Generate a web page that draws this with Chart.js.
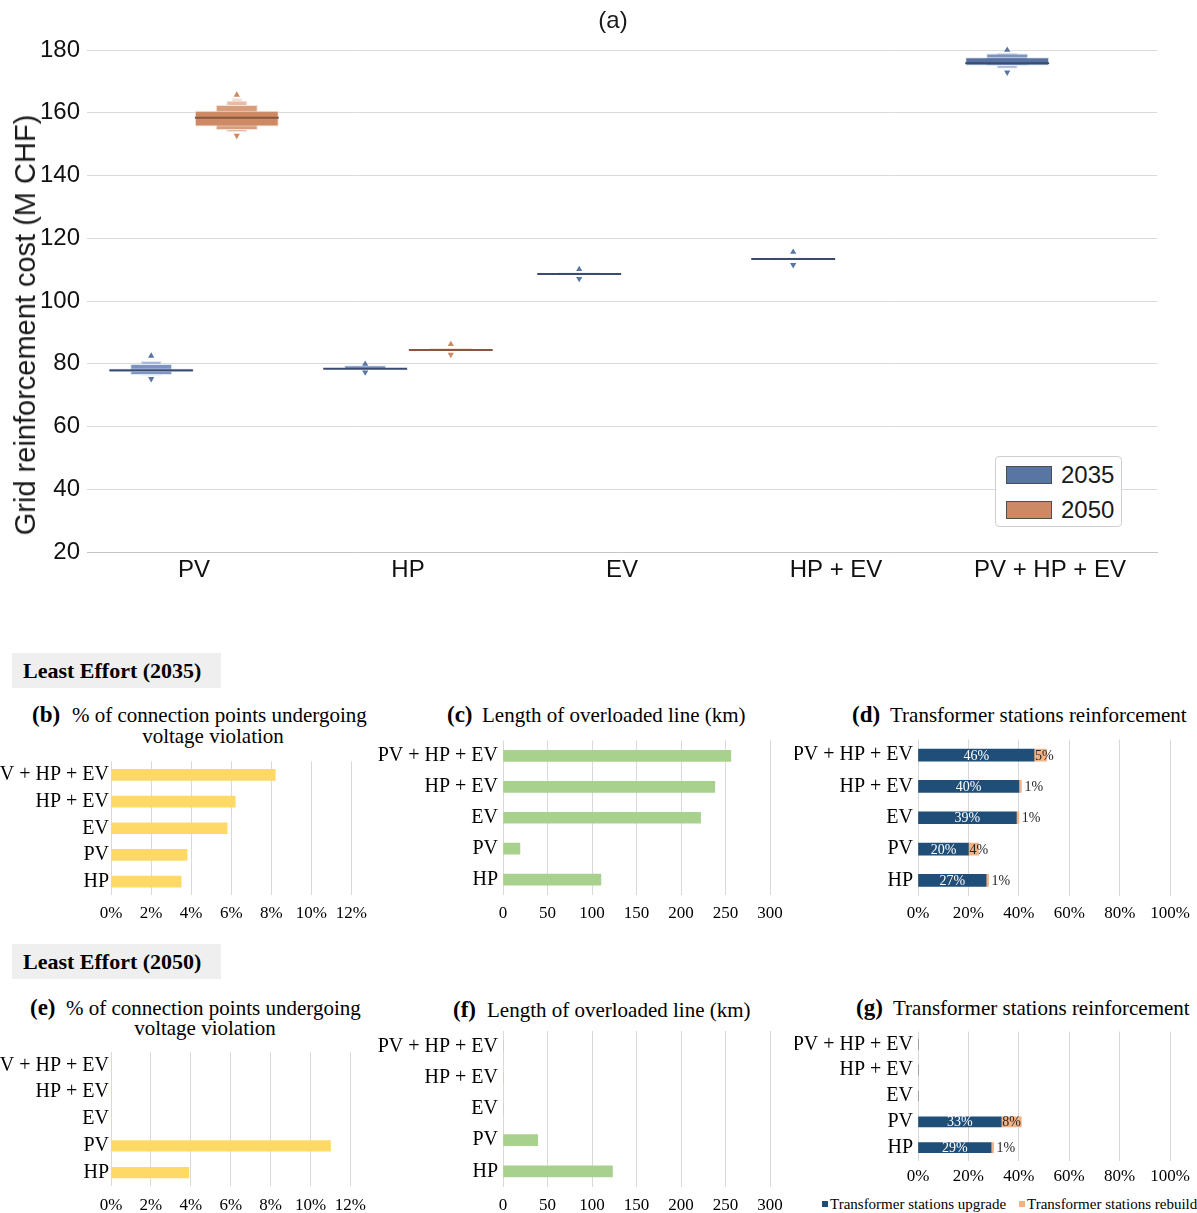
<!DOCTYPE html>
<html>
<head>
<meta charset="utf-8">
<script src="https://cdn.jsdelivr.net/npm/chart.js@4.4.1/dist/chart.umd.min.js"></script>
<style>
  html, body { margin: 0; padding: 0; background: #fff; }
  #fig { position: relative; width: 1197px; height: 1213px; overflow: hidden; background: #fff; }
  canvas.c { position: absolute; }
  .t { position: absolute; white-space: nowrap; }
  .sans { font-family: "Liberation Sans", Arial, sans-serif; color: #1a1a1a; }
  .serif { font-family: "Liberation Serif", "Times New Roman", serif; color: #000; }
  .hdr { position: absolute; left: 12px; width: 209px; height: 35px; background: #efefef;
         font: bold 22px "Liberation Serif", "Times New Roman", serif; line-height: 35px;
         padding-left: 11px; box-sizing: border-box; color: #000; }
  .ttl { font-size: 21px; line-height: 24px; }
  .tag { font-weight: bold; font-size: 23px; line-height: 24px; }
  .lg { position: absolute; left: 995px; top: 456px; width: 127px; height: 71px; box-sizing: border-box;
        border: 1px solid #cfcfcf; border-radius: 4px; background: #fff; }
  .lg .p { position: absolute; left: 10px; width: 46px; height: 18px; box-sizing: border-box; border: 1px solid #4d4d4d; }
  .lg .l { position: absolute; left: 65px; font: 24px "Liberation Sans", Arial, sans-serif; line-height: 28px; color: #1a1a1a; }
  .sq { position: absolute; width: 6px; height: 6px; }
</style>
</head>
<body>
<div id="fig">
  <canvas id="chartA" class="c" width="1197" height="600" style="left:0;top:0"></canvas>
  <div class="t sans" style="left:513px;width:200px;top:6px;text-align:center;font-size:24px;line-height:28px;">(a)</div>
  <div class="t sans" style="left:25px;top:325px;font-size:29px;line-height:32px;transform:translate(-50%,-50%) rotate(-90deg);">Grid reinforcement cost (M CHF)</div>
  <div class="lg">
    <div class="p" style="top:9px;background:#5875a4"></div><div class="l" style="top:4px">2035</div>
    <div class="p" style="top:44px;background:#cc8963"></div><div class="l" style="top:39px">2050</div>
  </div>

  <div class="hdr" style="top:653px">Least Effort (2035)</div>
  <div class="hdr" style="top:944px">Least Effort (2050)</div>

  <div class="t serif tag" style="left:32px;top:703px">(b)</div>
  <div class="t serif ttl" style="left:72px;top:703px">% of connection points undergoing</div>
  <div class="t serif ttl" style="left:113px;width:200px;text-align:center;top:724px">voltage violation</div>
  <div class="t serif tag" style="left:447px;top:703px">(c)</div>
  <div class="t serif ttl" style="left:482px;top:703px">Length of overloaded line (km)</div>
  <div class="t serif tag" style="left:852px;top:703px">(d)</div>
  <div class="t serif ttl" style="left:890px;top:703px">Transformer stations reinforcement</div>

  <div class="t serif tag" style="left:30px;top:996px">(e)</div>
  <div class="t serif ttl" style="left:66px;top:996px">% of connection points undergoing</div>
  <div class="t serif ttl" style="left:105px;width:200px;text-align:center;top:1016px">voltage violation</div>
  <div class="t serif tag" style="left:453px;top:998px">(f)</div>
  <div class="t serif ttl" style="left:487px;top:998px">Length of overloaded line (km)</div>
  <div class="t serif tag" style="left:856px;top:996px">(g)</div>
  <div class="t serif ttl" style="left:893px;top:996px">Transformer stations reinforcement</div>

  <canvas id="chartB" class="c" width="375" height="190" style="left:0;top:740px"></canvas>
  <canvas id="chartC" class="c" width="420" height="211" style="left:375px;top:719px"></canvas>
  <canvas id="chartD" class="c" width="402" height="211" style="left:795px;top:719px"></canvas>
  <canvas id="chartE" class="c" width="375" height="182" style="left:0;top:1031px"></canvas>
  <canvas id="chartF" class="c" width="420" height="204" style="left:375px;top:1009px"></canvas>
  <canvas id="chartG" class="c" width="402" height="185" style="left:795px;top:1010px"></canvas>

  <div class="sq" style="left:822px;top:1201px;background:#1f4e79"></div>
  <div class="t serif" style="left:830px;top:1196px;font-size:15px;line-height:16px">Transformer stations upgrade</div>
  <div class="sq" style="left:1019px;top:1201px;background:#f4b183"></div>
  <div class="t serif" style="left:1027px;top:1196px;font-size:15px;line-height:16px">Transformer stations rebuild</div>
</div>

<script>
// ---------- (a) grid reinforcement cost, letter-value boxes ----------
const scenarios = ['PV', 'HP', 'EV', 'HP + EV', 'PV + HP + EV'];
const costTicks = [20, 40, 60, 80, 100, 120, 140, 160, 180];

// letter-value boxes [low, high] in M CHF; level 0 is the central box
const lv2035_0 = [[77.3, 78.5], [78.2, 78.6], [108.5, 108.8], [113.1, 113.7], [175.0, 177.7]];
const lv2035_1 = [[76.4, 79.9], [78.3, 79.5], [108.4, 109.2], [113.0, 113.9], [174.9, 178.9]];
const lv2035_2 = [[76.2, 80.9], null, null, null, [174.0, 179.1]];
const lv2050_0 = [[155.6, 160.6], [84.3, 84.6], null, null, null];
const lv2050_1 = [[154.5, 162.5], [84.2, 85.0], null, null, null];
const lv2050_2 = [[153.9, 163.8], null, null, null, null];
const lv2050_3 = [[153.8, 164.6], null, null, null, null];

const median2035 = [77.9, 78.4, 108.6, 113.4, 175.8];
const median2050 = [158.4, 84.4, null, null, null];

const outlierHigh2035 = [82.5, 79.9, 110.1, 115.6, 180.0];
const outlierLow2035 = [75.2, 77.3, 107.1, 111.5, 172.9];
const outlierHigh2050 = [165.7, 86.2, null, null, null];
const outlierLow2050 = [152.7, 82.9, null, null, null];

// ---------- (b)-(g) Least Effort indicators ----------
const rows = ['PV + HP + EV', 'HP + EV', 'EV', 'PV', 'HP'];
const violation2035 = [8.2, 6.2, 5.8, 3.8, 3.5];
const overload2035 = [256, 238, 222, 19, 110];
const upgrade2035 = [46, 40, 39, 20, 27];
const rebuild2035 = [5, 1, 1, 4, 1];
const violation2050 = [0, 0, 0, 11.0, 3.9];
const overload2050 = [0, 0, 0, 39, 123];
const upgrade2050 = [0, 0, 0, 33, 29];
const rebuild2050 = [0, 0, 0, 8, 1];
const violationTicks = [0, 2, 4, 6, 8, 10, 12];
const overloadTicks = [0, 50, 100, 150, 200, 250, 300];
const stationTicks = [0, 20, 40, 60, 80, 100];

const SANS = '"Liberation Sans", Arial, sans-serif';
const SERIF = '"Liberation Serif", "Times New Roman", serif';

// ---------- build panel (a) ----------
const style = {
  '2035': { lv: ['#56719f', '#7b93c0', '#a9b9d7', '#d4dceb'], median: '#3a4b6f', edge: '#e3e8f1', marker: '#5875a4' },
  '2050': { lv: ['#cd8a64', '#d89d7b', '#e5bca4', '#f2dbcd'], median: '#87563f', edge: '#f3e3d9', marker: '#cc8963' }
};
const dodge = { '2035': -0.2, '2050': 0.2 };      // each year sits in its half of the scenario slot
const levelWidth = [0.98, 0.49, 0.245, 0.12];
const MEDIAN_HALF = 0.3;                          // half thickness of the median bar, in M CHF

const levels = { '2035': [lv2035_0, lv2035_1, lv2035_2], '2050': [lv2050_0, lv2050_1, lv2050_2, lv2050_3] };
const medians = { '2035': median2035, '2050': median2050 };
const outliers = { '2035': [outlierHigh2035, outlierLow2035], '2050': [outlierHigh2050, outlierLow2050] };

const place = (vals, yr) => vals.map((v, i) => v == null ? null : { x: i + dodge[yr], y: v }).filter(Boolean);

const dsA = [];
// outlier markers (drawn on top)
['2035', '2050'].forEach(yr => {
  outliers[yr].forEach((vals, k) => {
    dsA.push({
      type: 'scatter', xAxisID: 'xb', yAxisID: 'y', clip: false,
      data: place(vals, yr),
      pointStyle: 'triangle', rotation: k === 0 ? 0 : 180, radius: 3.6,
      backgroundColor: style[yr].marker, borderWidth: 0
    });
  });
});
// median lines
['2035', '2050'].forEach(yr => {
  dsA.push({
    type: 'bar', xAxisID: 'xb', yAxisID: 'y', grouped: false,
    data: place(medians[yr].map(m => m == null ? null : [m - MEDIAN_HALF, m + MEDIAN_HALF]), yr),
    backgroundColor: style[yr].median, borderWidth: 0,
    barPercentage: levelWidth[0], categoryPercentage: 1
  });
});
// letter-value boxes, widest first so it lies over the narrower outer ones
for (let k = 0; k < 4; k++) {
  ['2035', '2050'].forEach(yr => {
    const lv = levels[yr][k];
    if (!lv) return;
    dsA.push({
      type: 'bar', xAxisID: 'xb', yAxisID: 'y', grouped: false,
      data: place(lv, yr),
      backgroundColor: style[yr].lv[k], borderColor: style[yr].edge,
      borderWidth: 1, borderSkipped: false,
      barPercentage: levelWidth[k], categoryPercentage: 1
    });
  });
}

new Chart(document.getElementById('chartA'), {
  type: 'bar',
  data: { labels: scenarios, datasets: dsA },
  options: {
    responsive: false, animation: false, events: [],
    layout: { padding: { top: 50, right: 40, left: 0, bottom: 0 } },
    plugins: { legend: { display: false }, tooltip: { enabled: false } },
    scales: {
      x: {
        type: 'category', offset: true,
        grid: { display: false, drawTicks: false },
        border: { display: true, color: '#c4c4c4', width: 1 },
        ticks: { font: { family: SANS, size: 24 }, color: '#111', padding: 4, maxRotation: 0, autoSkip: false },
        afterFit(s) { s.height = 48; }
      },
      xb: {
        type: 'linear', display: false, offset: false,
        min: -0.5, max: scenarios.length - 0.5, ticks: { stepSize: 1 }
      },
      y: {
        min: costTicks[0], max: costTicks[costTicks.length - 1],
        ticks: { stepSize: costTicks[1] - costTicks[0], font: { family: SANS, size: 24 }, color: '#111', padding: 7 },
        grid: { color: '#dadada', lineWidth: 1, drawTicks: false },
        border: { display: false },
        afterFit(s) { s.width = 87; }
      }
    }
  }
});

// ---------- panels (b)-(g) ----------
const segLabels = {
  id: 'segLabels',
  afterDatasetsDraw(chart) {
    const ctx = chart.ctx;
    const upMeta = chart.getDatasetMeta(0), rbMeta = chart.getDatasetMeta(1);
    const up = chart.data.datasets[0].data, rb = chart.data.datasets[1].data;
    ctx.save();
    ctx.font = '14px ' + SERIF;
    ctx.textBaseline = 'middle';
    up.forEach((v, i) => {
      if (!v) return;
      const b = upMeta.data[i];
      ctx.fillStyle = '#ffffff';
      ctx.textAlign = 'center';
      ctx.fillText(v + '%', (b.x + b.base) / 2, b.y + 1);
      const r = rb[i];
      if (!r) return;
      const s = rbMeta.data[i];
      ctx.fillStyle = '#262626';
      ctx.textAlign = 'left';
      const x = r >= 3 ? Math.min(s.x, s.base) + 1 : Math.max(s.x, s.base) + 3;
      ctx.fillText(r + '%', x, s.y + 1);
    });
    ctx.restore();
  }
};

function hbar(id, datasets, o) {
  const t = o.ticks;
  return new Chart(document.getElementById(id), {
    type: 'bar',
    data: { labels: rows, datasets },
    options: {
      indexAxis: 'y', responsive: false, animation: false, events: [],
      layout: { padding: { top: o.top, right: o.right, left: 0, bottom: 0 } },
      plugins: { legend: { display: false }, tooltip: { enabled: false } },
      scales: {
        x: {
          min: t[0], max: t[t.length - 1], stacked: !!o.stacked,
          ticks: { stepSize: t[1] - t[0], callback: o.fmt, font: { family: SERIF, size: 17 }, color: '#000',
                   padding: o.tickPad, maxRotation: 0, autoSkip: false },
          grid: { color: '#d9d9d9', lineWidth: 1, drawTicks: false },
          border: { display: false },
          afterFit(s) { s.height = o.xh; }
        },
        y: {
          stacked: !!o.stacked,
          ticks: { font: { family: SERIF, size: 20 }, color: '#000', padding: o.catPad, autoSkip: false },
          grid: { display: false, drawTicks: false },
          border: { display: false },
          afterFit(s) { s.width = o.yw; }
        }
      }
    },
    plugins: o.plugins || []
  });
}

const pct = v => v + '%';
const bar = (data, color, thick) => ({ data, backgroundColor: color, borderWidth: 0, barThickness: thick });

hbar('chartB', [bar(violation2035, '#ffd966', 11)],
  { ticks: violationTicks, fmt: pct, top: 21.5, right: 23, yw: 111, xh: 35, tickPad: 8, catPad: 2 });
hbar('chartC', [bar(overload2035, '#a9d18e', 11)],
  { ticks: overloadTicks, top: 21.5, right: 25, yw: 128, xh: 35, tickPad: 8, catPad: 5 });
hbar('chartD', [bar(upgrade2035, '#1f4e79', 12), bar(rebuild2035, '#f4b183', 12)],
  { ticks: stationTicks, fmt: pct, stacked: true, top: 20.5, right: 26, yw: 123, xh: 34, tickPad: 7, catPad: 5, plugins: [segLabels] });
hbar('chartE', [bar(violation2050, '#ffd966', 10.5)],
  { ticks: violationTicks, fmt: pct, top: 21, right: 23, yw: 111, xh: 27, tickPad: 9, catPad: 2 });
hbar('chartF', [bar(overload2050, '#a9d18e', 11)],
  { ticks: overloadTicks, top: 22, right: 25, yw: 128, xh: 26, tickPad: 8, catPad: 5 });
hbar('chartG', [bar(upgrade2050, '#1f4e79', 10), bar(rebuild2050, '#f4b183', 10)],
  { ticks: stationTicks, fmt: pct, stacked: true, top: 21.5, right: 27, yw: 123, xh: 34.5, tickPad: 6, catPad: 5, plugins: [segLabels] });
</script>
</body>
</html>
